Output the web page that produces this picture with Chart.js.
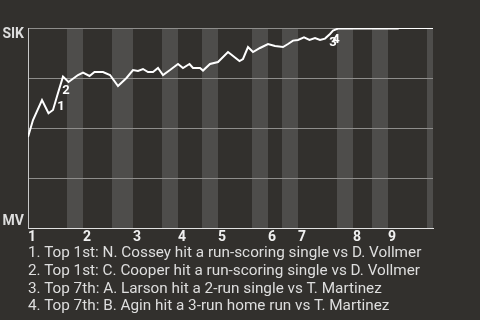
<!DOCTYPE html>
<html>
<head>
<meta charset="utf-8">
<script src="https://cdn.jsdelivr.net/npm/chart.js@4.4.1/dist/chart.umd.min.js"></script>
<style>
  html, body { margin: 0; padding: 0; background: #32302d; }
  body { width: 480px; height: 320px; overflow: hidden; position: relative; }
  .chart-box { position: absolute; left: 0; top: 0; width: 480px; height: 250px; }
  .plays { position: absolute; left: 28px; top: 244px; font: 15.3px Roboto, sans-serif; line-height: 17.8px; color: #dedede; white-space: nowrap; }
</style>
</head>
<body>
<div class="chart-box"><canvas id="wpChart"></canvas></div>
<div class="plays" id="plays"></div>
<script>
// innings and where each half starts (in plays)
const innings = ['1', '2', '3', '4', '5', '6', '7', '8', '9'];
const topStart = [0, 11, 21, 30, 38, 48, 54, 65, 72];
const bottomStart = [7.8, 16.8, 26.8, 34.8, 44.8, 50.8, 61.8, 68.8, 79.8];
const gameEnd = 81;

// win probability for SIK after each play
const playX = [0, 1, 2.8, 4.1, 5, 6, 7, 8.1, 10, 11, 12.3, 13.3, 15, 16.4, 18, 19.7, 21, 22, 23, 24, 25, 26, 27, 28.4,
  30, 31, 32.3, 33, 34.4, 35, 36.4, 38, 40, 42.3, 43, 44, 45, 46.4, 48, 49.4, 51, 52, 53, 54, 55.2, 56.3, 57.4,
  58.4, 59.4, 60.4, 61, 62, 74, 74.2, 81];
const winProb = [0.455, 0.54, 0.64, 0.574, 0.59, 0.675, 0.757, 0.73, 0.765, 0.777, 0.76, 0.78, 0.78, 0.765, 0.71, 0.75,
  0.79, 0.785, 0.795, 0.78, 0.78, 0.80, 0.765, 0.79, 0.82, 0.80, 0.82, 0.80, 0.80, 0.787, 0.82, 0.83, 0.88, 0.835,
  0.845, 0.905, 0.88, 0.90, 0.92, 0.91, 0.905, 0.92, 0.937, 0.94, 0.953, 0.94, 0.95, 0.94, 0.947, 0.97, 0.987,
  0.997, 0.997, 1.0, 1.0];

// big plays
const eventX = [6, 7, 60.4, 61];
const eventText = [
  'Top 1st: N. Cossey hit a run-scoring single vs D. Vollmer',
  'Top 1st: C. Cooper hit a run-scoring single vs D. Vollmer',
  'Top 7th: A. Larson hit a 2-run single vs T. Martinez',
  'Top 7th: B. Agin hit a 3-run home run vs T. Martinez'
];
const yLabels = ['SIK', 'MV'];

document.getElementById('plays').innerHTML = eventText.map((t, i) => `${i + 1}. ${t}`).join('<br>');

const points = playX.map((x, i) => ({ x: x, y: winProb[i] }));

const bandsPlugin = {
  id: 'bands',
  beforeDraw(chart) {
    const ctx = chart.ctx, area = chart.chartArea, xs = chart.scales.x;
    ctx.save();
    ctx.fillStyle = '#4e4d4b';
    for (let i = 0; i < bottomStart.length; i++) {
      const end = i + 1 < topStart.length ? topStart[i + 1] : gameEnd;
      const x0 = xs.getPixelForValue(bottomStart[i]);
      const x1 = xs.getPixelForValue(end);
      ctx.fillRect(x0, area.top, x1 - x0, area.bottom - area.top);
    }
    ctx.restore();
  },
  afterDraw(chart) {
    const ctx = chart.ctx, area = chart.chartArea;
    const xs = chart.scales.x, ys = chart.scales.y;
    ctx.save();
    ctx.font = 'bold 14px Roboto, sans-serif';
    ctx.fillStyle = '#dedede';
    ctx.textAlign = 'right';
    ctx.textBaseline = 'top';
    ctx.fillText(yLabels[0], area.left - 4, area.top - 1);
    ctx.textBaseline = 'bottom';
    ctx.fillText(yLabels[1], area.left - 4, area.bottom);

    // event numbers next to the line
    ctx.font = 'bold 13px Roboto, sans-serif';
    ctx.fillStyle = '#ffffff';
    ctx.textAlign = 'center';
    ctx.textBaseline = 'middle';
    eventX.forEach((ex, i) => {
      const idx = playX.indexOf(ex);
      const px = xs.getPixelForValue(ex);
      const py = ys.getPixelForValue(winProb[idx]);
      ctx.fillText(String(i + 1), px + 3, py + (i < 2 ? 14 : 9));
    });
    ctx.restore();
  }
};

new Chart(document.getElementById('wpChart'), {
  type: 'line',
  data: {
    datasets: [{
      data: points,
      borderColor: '#ffffff',
      borderWidth: 2,
      pointRadius: 0,
      tension: 0,
      fill: false
    }]
  },
  options: {
    responsive: true,
    maintainAspectRatio: false,
    animation: false,
    events: [],
    layout: { padding: { left: 28, right: 47, top: 28, bottom: 0 } },
    plugins: { legend: { display: false }, tooltip: { enabled: false } },
    scales: {
      x: {
        type: 'linear',
        min: 0,
        max: gameEnd,
        afterBuildTicks: (scale) => { scale.ticks = topStart.map(v => ({ value: v })); },
        afterFit: (scale) => { scale.height = 22; },
        grid: { display: false, drawTicks: false },
        border: { color: '#e0e0e0', width: 1 },
        ticks: {
          autoSkip: false,
          maxRotation: 0,
          align: 'start',
          padding: 1,
          color: '#f0f0f0',
          font: { family: 'Roboto', size: 14, weight: 'bold' },
          callback: (v, i) => innings[i]
        }
      },
      y: {
        min: 0,
        max: 1,
        afterFit: (scale) => { scale.width = 0; },
        afterBuildTicks: (scale) => { scale.ticks = [0, 0.25, 0.5, 0.75, 1].map(v => ({ value: v })); },
        grid: { color: '#8e8d8b', drawTicks: false },
        border: { color: '#c8c8c8', width: 1 },
        ticks: { display: false }
      }
    }
  },
  plugins: [bandsPlugin]
});
</script>
</body>
</html>
